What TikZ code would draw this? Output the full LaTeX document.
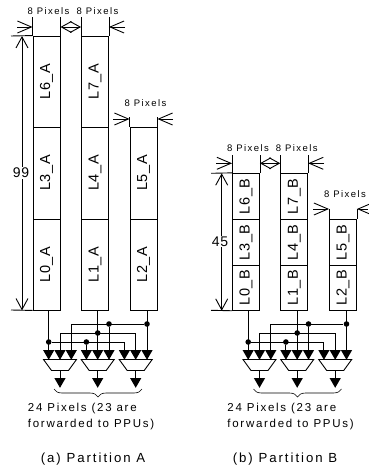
\documentclass[tikz,border=0pt]{standalone}
\usepackage{fontspec}
\setmainfont[LetterSpace=15]{Liberation Sans}
\newfontfamily\celfont[LetterSpace=4]{Liberation Sans}
\usetikzlibrary{arrows.meta,calc,decorations.pathreplacing,shapes.geometric}
\tikzset{
  cell/.style={draw, minimum width=27pt, inner sep=0pt, font=\celfont\fontsize{14.5}{14.5}\selectfont},
  dot/.style={circle, fill=black, inner sep=0pt, minimum size=5.6pt},
  intip/.style={regular polygon, regular polygon sides=3, regular polygon rotate=180, fill=black, inner sep=0pt, minimum size=13pt},
  dimline/.style={-{Straight Barb[length=14pt,width=12pt]}},
  dimvert/.style={-{Straight Barb[length=11pt,width=12pt]}},
  dimboth/.style={{Straight Barb[length=10pt,width=11pt]}-{Straight Barb[length=10pt,width=11pt]}},
  pixtext/.style={inner sep=0pt, font=\fontsize{9.5}{11}\selectfont},
  numtext/.style={fill=white, inner sep=1pt, font=\celfont\fontsize{14}{14}\selectfont},
  captext/.style={inner sep=0pt, font=\fontsize{11.5}{16}\selectfont, align=left}
}
\begin{document}
\begin{tikzpicture}[x=1pt,y=-1pt,line width=0.9pt]
\useasboundingbox (0,0) rectangle (368,470);

% Lines of partition A
\node[cell, minimum height=91pt] (L6A) at (46.5,81.5) {\rotatebox{90}{L6\_A}};
\node[cell, minimum height=92pt] (L3A) at (46.5,173) {\rotatebox{90}{L3\_A}};
\node[cell, minimum height=91pt] (L0A) at (46.5,264.5) {\rotatebox{90}{L0\_A}};
\node[cell, minimum height=91pt] (L7A) at (95,81.5) {\rotatebox{90}{L7\_A}};
\node[cell, minimum height=92pt] (L4A) at (95,173) {\rotatebox{90}{L4\_A}};
\node[cell, minimum height=91pt] (L1A) at (95,264.5) {\rotatebox{90}{L1\_A}};
\node[cell, minimum height=92pt] (L5A) at (143.5,173) {\rotatebox{90}{L5\_A}};
\node[cell, minimum height=91pt] (L2A) at (143.5,264.5) {\rotatebox{90}{L2\_A}};

% Lines of partition B
\node[cell, minimum height=46pt] (L6B) at (246,196.3) {\rotatebox{90}{L6\_B}};
\node[cell, minimum height=46pt] (L3B) at (246,242.3) {\rotatebox{90}{L3\_B}};
\node[cell, minimum height=45pt] (L0B) at (246,287.8) {\rotatebox{90}{L0\_B}};
\node[cell, minimum height=46pt] (L7B) at (294.2,196.3) {\rotatebox{90}{L7\_B}};
\node[cell, minimum height=46pt] (L4B) at (294.2,242.3) {\rotatebox{90}{L4\_B}};
\node[cell, minimum height=45pt] (L1B) at (294.2,287.8) {\rotatebox{90}{L1\_B}};
\node[cell, minimum height=46pt] (L5B) at (343,242.3) {\rotatebox{90}{L5\_B}};
\node[cell, minimum height=45pt] (L2B) at (343,287.8) {\rotatebox{90}{L2\_B}};

% Widths A
\node[pixtext] (wa1) at (48.5,11) {8 Pixels};
\node[pixtext] (wa2) at (97.5,11) {8 Pixels};
\node[pixtext] (wa3) at (145.5,103) {8 Pixels};
\draw (L6A.north west) -- ++(0,-19); \draw (L6A.north east) -- ++(0,-19);
\draw (L7A.north west) -- ++(0,-19); \draw (L7A.north east) -- ++(0,-19);
\draw (L5A.north west) -- ++(0,-10); \draw (L5A.north east) -- ++(0,-10);
\coordinate (wal) at (17,27); \coordinate (war) at (125,27);
\coordinate (wbl) at (113,119); \coordinate (wbr) at (173,119);
\draw[dimline] (wal) -- (wal -| L6A.north west);
\draw[dimline] (war) -- (war -| L7A.north east);
\draw[dimboth] (wal -| L6A.north east) -- (wal -| L7A.north west);
\draw[dimline] (wbl) -- (wbl -| L5A.north west);
\draw[dimline] (wbr) -- (wbr -| L5A.north east);

% Widths B
\node[pixtext] (wb1) at (248,148) {8 Pixels};
\node[pixtext] (wb2) at (296.7,148) {8 Pixels};
\node[pixtext] (wb3) at (345,194) {8 Pixels};
\draw (L6B.north west) -- ++(0,-18); \draw (L6B.north east) -- ++(0,-18);
\draw (L7B.north west) -- ++(0,-18); \draw (L7B.north east) -- ++(0,-18);
\draw (L5B.north west) -- ++(0,-10); \draw (L5B.north east) -- ++(0,-10);
\coordinate (xal) at (216,163.3); \coordinate (xar) at (324,163.3);
\coordinate (xbl) at (313,209); \coordinate (xbr) at (368,209);
\draw[dimline] (xal) -- (xal -| L6B.north west);
\draw[dimline] (xar) -- (xar -| L7B.north east);
\draw[dimboth] (xal -| L6B.north east) -- (xal -| L7B.north west);
\draw[dimline] (xbl) -- (xbl -| L5B.north west);
\draw[dimline] (xbr) -- (xbr -| L5B.north east);

% Heights
\coordinate (ha) at (22,36); \coordinate (hb) at (221.7,173.3);
\draw (L6A.north west) -- (11,36);
\draw (L0A.south west) -- (11,310);
\draw (L6B.north west) -- (211,173.3);
\draw (L0B.south west) -- (211,310.3);
\draw[dimvert] (ha |- L3A.center) -- (ha);
\draw[dimvert] (ha |- L3A.center) -- (ha |- L0A.south);
\draw[dimvert] (hb |- L3B.center) -- (hb);
\draw[dimvert] (hb |- L3B.center) -- (hb |- L0B.south);
\node[numtext] (h99) at (21,173) {99};
\node[numtext] (h45) at (220,241.5) {45};

% Muxes
\foreach \p/\dx in {A/0,B/199.5} {
\begin{scope}[xshift=\dx pt]
\foreach \m/\c in {1/60,2/97.7,3/135.7} {
  \coordinate (mux\m\p) at (\c,370.5);
  \draw (\c-16.5,359.5) -- (\c+16.5,359.5) -- (\c+8.5,370.5) -- (\c-8.5,370.5) -- cycle;
  \node[intip] (out\m\p) at (\c,381.3) {};
  \draw (mux\m\p) -- (out\m\p.north);
  \node[intip] (ia\m\p) at (\c-11.3,353.3) {};
  \node[intip] (ib\m\p) at (\c,353.3) {};
  \node[intip] (ic\m\p) at (\c+11.3,353.3) {};
}
\coordinate (ya\p) at (0,342); \coordinate (yb\p) at (0,333); \coordinate (yc\p) at (0,324);
% Line 0 wires
\draw (ia1\p.north |- L0\p.south) -- (ia1\p.north);
\node[dot] (da\p) at (ia1\p.north |- ya\p) {};
\node[dot] (db\p) at (ia2\p.north |- ya\p) {};
\draw (da\p) -- (ia3\p.north |- da\p) -- (ia3\p.north);
\draw (db\p) -- (ia2\p.north);
% Line 1 wires
\draw (ib2\p.north |- L1\p.south) -- (ib2\p.north);
\node[dot] (dc\p) at (ib2\p.north |- yb\p) {};
\draw (ib1\p.north) -- (ib1\p.north |- dc\p) -- (ib3\p.north |- dc\p) -- (ib3\p.north);
% Line 2 wires
\draw (ic3\p.north |- L2\p.south) -- (ic3\p.north);
\node[dot] (dd\p) at (ic3\p.north |- yc\p) {};
\node[dot] (de\p) at (ic2\p.north |- yc\p) {};
\draw (ic1\p.north) -- (ic1\p.north |- dd\p) -- (dd\p);
\draw (de\p) -- (ic2\p.north);
% Brace and text
\coordinate (bl\p) at (54,389); \coordinate (br\p) at (142,389);
\draw[line width=0.6pt, decorate, decoration={brace,mirror,amplitude=8pt}] (bl\p) -- (br\p);
\node[captext, anchor=west] (txt\p) at (27.5,417) {24 Pixels (23 are\\forwarded to PPUs)};
\end{scope}
}

% Captions
\node[inner sep=0pt, font=\fontsize{13.2}{15}\selectfont] (capA) at (93,459) {(a) Partition A};
\node[inner sep=0pt, font=\fontsize{13.2}{15}\selectfont] (capB) at (285,459) {(b) Partition B};
\end{tikzpicture}
\end{document}
